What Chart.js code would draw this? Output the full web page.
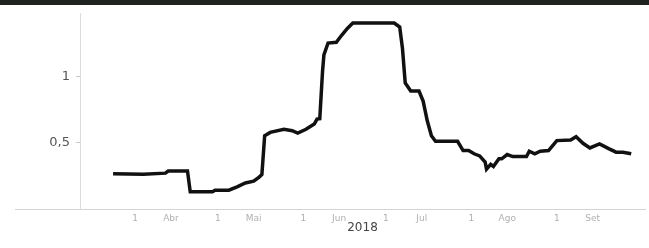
<!DOCTYPE html>
<html>
<head>
<meta charset="utf-8">
<script src="https://cdn.jsdelivr.net/npm/chart.js@4.4.1/dist/chart.umd.min.js"></script>
<style>
    body { margin: 0; background: #fff; }
    #wrap { position: relative; width: 649px; height: 248px; }
    #topBand { position: absolute; left: 0; top: 0; width: 649px; height: 5px; background: #1e2320; }
</style>
</head>
<body>
<div id="wrap">
    <canvas id="rateChart" width="649" height="248"></canvas>
    <div id="topBand"></div>
</div>
<script>
// day of year 2018 (1 Jan = 0) and the plotted value
const days = [82, 93, 101, 102, 109, 110, 118, 119, 124, 127, 130, 133, 135, 136, 137, 139, 144, 147, 149, 152,
    155, 156, 157, 158, 158.5, 160, 163, 165, 167, 169, 184, 186, 187, 188, 190, 193, 194.5, 196, 197.5, 199,
    207, 209, 211, 213, 215, 217, 217.5, 219, 220, 222, 223, 225, 227, 232, 233, 235, 237, 240, 243, 248,
    250, 252.5, 255, 258.5, 262, 264.5, 267, 270];
const values = [0.266, 0.262, 0.27, 0.286, 0.286, 0.129, 0.129, 0.142, 0.142, 0.167, 0.196, 0.21, 0.24, 0.26, 0.552, 0.577, 0.6, 0.59, 0.572, 0.6,
    0.64, 0.677, 0.68, 1.037, 1.16, 1.25, 1.256, 1.31, 1.36, 1.4, 1.4, 1.37, 1.21, 0.95, 0.888, 0.888, 0.813, 0.664, 0.552, 0.51,
    0.51, 0.44, 0.44, 0.416, 0.4, 0.353, 0.3, 0.336, 0.32, 0.378, 0.378, 0.41, 0.395, 0.395, 0.435, 0.416, 0.435, 0.44, 0.515, 0.52,
    0.545, 0.495, 0.46, 0.49, 0.453, 0.428, 0.428, 0.416];

const monthStarts = [90, 120, 151, 181, 212, 243];
const monthMids = [103, 133, 164, 194, 225, 256];
const monthNames = ['Abr', 'Mai', 'Jun', 'Jul', 'Ago', 'Set'];
const yTicks = [0.5, 1];

const points = days.map((d, i) => ({ x: d, y: values[i] }));

// grey baseline that runs out to the left of the y axis
const baseLine = {
    id: 'baseLine',
    afterDraw(chart) {
        const c = chart.ctx;
        const y = chart.chartArea.bottom;
        c.save();
        c.strokeStyle = '#d4d4d4';
        c.lineWidth = 1;
        c.beginPath();
        c.moveTo(15, y + 0.5);
        c.lineTo(chart.chartArea.left, y + 0.5);
        c.stroke();
        c.restore();
    }
};

new Chart(document.getElementById('rateChart').getContext('2d'), {
    type: 'line',
    data: {
        datasets: [{
            data: points,
            borderColor: '#111',
            borderWidth: 3.5,
            pointRadius: 0,
            tension: 0,
            fill: false
        }]
    },
    options: {
        responsive: false,
        animation: false,
        layout: { padding: { top: 12, right: 4, left: 0, bottom: 13 } },
        plugins: { legend: { display: false }, tooltip: { enabled: false } },
        scales: {
            x: {
                type: 'linear',
                min: 70,
                max: 275,
                afterBuildTicks: (scale) => {
                    const t = [];
                    monthStarts.forEach((d, i) => {
                        t.push({ value: d });
                        t.push({ value: monthMids[i] });
                    });
                    scale.ticks = t;
                },
                afterFit: (scale) => { scale.height = 26; },
                ticks: {
                    autoSkip: false,
                    maxRotation: 0,
                    padding: 4,
                    color: '#b0b0b0',
                    font: { family: 'DejaVu Sans', size: 9 },
                    callback: (v) => {
                        const i = monthMids.indexOf(v);
                        return i >= 0 ? monthNames[i] : '1';
                    }
                },
                grid: { drawOnChartArea: false, drawTicks: false },
                border: { color: '#d4d4d4' },
                title: {
                    display: true,
                    text: '2018',
                    color: '#444',
                    padding: { top: 0, bottom: 0 },
                    font: { family: 'DejaVu Sans', size: 12 }
                }
            },
            y: {
                min: 0,
                max: 1.47,
                afterBuildTicks: (scale) => {
                    scale.ticks = yTicks.map(v => ({ value: v }));
                },
                afterFit: (scale) => { scale.width = 80; },
                ticks: {
                    padding: 6,
                    color: '#555',
                    font: { family: 'DejaVu Sans', size: 13 },
                    callback: (v) => String(v).replace('.', ',')
                },
                grid: { drawOnChartArea: false, drawTicks: true, tickLength: 4, color: '#c8c8c8' },
                border: { color: '#dcdcdc' }
            }
        }
    },
    plugins: [baseLine]
});
</script>
</body>
</html>
